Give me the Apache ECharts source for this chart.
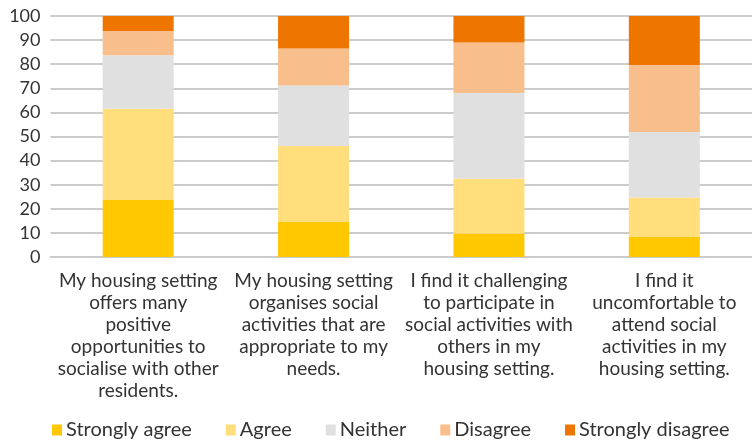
<!DOCTYPE html>
<html>
<head>
<meta charset="utf-8">
<script src="https://cdn.jsdelivr.net/npm/echarts@6/dist/echarts.min.js"></script>
<style>
  html, body { margin: 0; padding: 0; background: #fff; }
  #chart { width: 752px; height: 442px; }
</style>
</head>
<body>
<div id="chart"></div>
<script>
  // statements (x axis)
  const categories = [
    'My housing setting\noffers many\npositive\nopportunities to\nsocialise with other\nresidents.',
    'My housing setting\norganises social\nactivities that are\nappropriate to my\nneeds.',
    'I find it challenging\nto participate in\nsocial activities with\nothers in my\nhousing setting.',
    'I find it\nuncomfortable to\nattend social\nactivities in my\nhousing setting.'
  ]

  const stronglyAgree = [23.7, 14.7, 9.8, 8.5]
  const agree = [37.8, 31.4, 22.7, 16.2]
  const neither = [22.2, 25.1, 35.5, 27.2]
  const disagree = [10.1, 15.3, 21.0, 27.8]
  const stronglyDisagree = [6.2, 13.5, 11.0, 20.3]

  const seriesNames = ['Strongly agree', 'Agree', 'Neither', 'Disagree', 'Strongly disagree']
  const seriesColors = ['#ffc800', '#ffde7b', '#e0e0e0', '#f8bf8c', '#ee7500']

  const chart = echarts.init(document.getElementById('chart'))

  const font = 'Lato, "Noto Sans", sans-serif'
  const textColor = '#333333'

  const makeSeries = (name, data, i) => ({
    name: name,
    type: 'bar',
    stack: 'total',
    data: data,
    barWidth: 71,
    itemStyle: { color: seriesColors[i] }
  })

  const option = {
    animation: false,
    grid: {
      left: 50.5,
      top: 16,
      width: 709,
      bottom: 185,
      containLabel: false
    },
    legend: {
      bottom: -3,
      left: 47,
      itemWidth: 10,
      itemHeight: 11,
      itemGap: 34,
      icon: 'rect',
      textStyle: { fontFamily: font, fontSize: 20, color: textColor, padding: [0, 0, 0, -1] },
      data: seriesNames
    },
    xAxis: {
      type: 'category',
      data: categories,
      axisLine: { lineStyle: { color: '#cccccc', width: 2 } },
      axisTick: { show: false },
      axisLabel: {
        interval: 0,
        margin: 13,
        fontFamily: font,
        fontSize: 19,
        lineHeight: 22,
        color: textColor,
        align: 'center'
      }
    },
    yAxis: {
      type: 'value',
      min: 0,
      max: 100,
      interval: 10,
      axisLine: { show: false },
      axisTick: { show: false },
      axisLabel: { fontFamily: font, fontSize: 18, color: textColor, margin: 10 },
      splitLine: { lineStyle: { color: '#cccccc', width: 2 } }
    },
    series: [
      makeSeries(seriesNames[0], stronglyAgree, 0),
      makeSeries(seriesNames[1], agree, 1),
      makeSeries(seriesNames[2], neither, 2),
      makeSeries(seriesNames[3], disagree, 3),
      makeSeries(seriesNames[4], stronglyDisagree, 4)
    ]
  }

  chart.setOption(option)
</script>
</body>
</html>
